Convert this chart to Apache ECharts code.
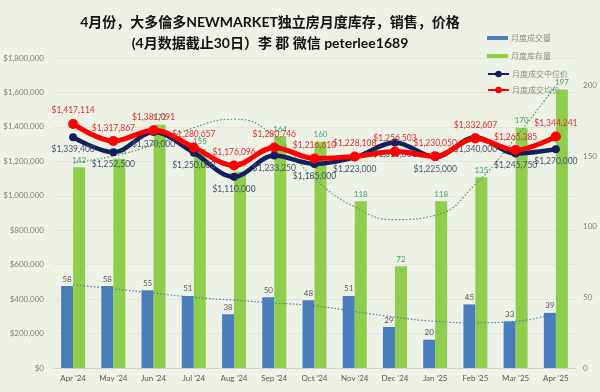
<!DOCTYPE html>
<html>
<head>
<meta charset="utf-8">
<script src="https://cdn.jsdelivr.net/npm/echarts@6/dist/echarts.min.js"></script>
<style>
html,body{margin:0;padding:0;background:#EEF1E6;}
#chart{width:600px;height:392px;}
</style>
</head>
<body>
<div id="chart"></div>
<script>
const categories = ["Apr '24","May '24","Jun '24","Jul '24","Aug '24","Sep '24","Oct '24","Nov '24","Dec '24","Jan '25","Feb '25","Mar '25","Apr '25"];
const sales = [58,58,55,51,38,50,48,51,29,20,45,33,39];
const inventory = [142,148,172,155,139,164,160,118,72,118,135,170,197];
const medianPrice = [1339400,1252500,1370000,1250000,1110000,1233250,1185000,1223000,1310000,1225000,1340000,1245750,1270000];
const avgPrice = [1417114,1317867,1381091,1280657,1176096,1280746,1216610,1228108,1256503,1230050,1332607,1265385,1344241];
const salesTrend = [59,56,53,50,48,46,44,40,36,33,32,33,39];
const inventoryTrend = [145,150,158,170,176,164,134,114,105,108,130,163,200];
const leftTicks = [0,200000,400000,600000,800000,1000000,1200000,1400000,1600000,1800000];
const rightTicks = [0,50,100,150,200];

const names = ['月度成交量','月度库存量','月度成交中位价','月度成交均价'];
const money = v => '$' + Number(v).toLocaleString('en-US');
const FONT = 'Lato, "Noto Sans CJK SC", sans-serif';

const chart = echarts.init(document.getElementById('chart'), null, {renderer:'canvas'});
chart.setOption({
  backgroundColor: '#EEF1E6',
  textStyle: {fontFamily: FONT},
  title: {
    text: '4月份，大多倫多NEWMARKET独立房月度库存，销售，价格\n(4月数据截止30日）李 郡 微信 peterlee1689',
    left: 265, top: 7, textAlign: 'center',
    textStyle: {fontFamily: FONT, fontSize: 14, fontWeight: 'bold', color: '#111', lineHeight: 21}
  },
  legend: [{
    data: [names[0], names[1]],
    orient: 'vertical', left: 482, top: 29, itemWidth: 21, itemHeight: 4, itemGap: 10,
    icon: 'rect',
    textStyle: {fontSize: 8, color: '#8C8C8C', fontFamily: '"Noto Sans CJK SC"', padding:[0,0,0,-2]}
  },{
    data: [names[2], names[3]],
    orient: 'vertical', left: 482, top: 65, itemWidth: 21, itemHeight: 8, itemGap: 8,
    textStyle: {fontSize: 8, color: '#8C8C8C', fontFamily: '"Noto Sans CJK SC"', padding:[0,0,0,-2]}
  }],
  grid: {left: 53, right: 24, top: 58, bottom: 24},
  xAxis: {
    type: 'category', data: categories,
    axisLine: {lineStyle: {color: '#D0D3C8'}},
    axisTick: {show: false},
    axisLabel: {fontSize: 8, color: '#595959', margin: 6}
  },
  yAxis: [{
    type: 'value', min: 0, max: leftTicks[leftTicks.length-1], interval: leftTicks[1]-leftTicks[0],
    axisLine: {show: false}, axisTick: {show: false},
    axisLabel: {fontSize: 8, color: '#7F7F7F', margin: 9, formatter: v => money(v)},
    splitLine: {lineStyle: {color: '#DCDFD3', width: 0.7}}
  },{
    type: 'value', min: 0, max: 219.3, interval: rightTicks[1]-rightTicks[0],
    axisLine: {show: false}, axisTick: {show: false},
    axisLabel: {fontSize: 8, color: '#7F7F7F', margin: 7, showMaxLabel: false},
    splitLine: {show: false}
  }],
  series: [{
    name: names[0], type: 'bar', yAxisIndex: 1, data: sales,
    barWidth: 12, barGap: '0%',
    itemStyle: {color: '#4A7EBB'},
    label: {show: true, position: 'top', fontSize: 8, color: '#595959', distance: 3}
  },{
    name: names[1], type: 'bar', yAxisIndex: 1, data: inventory,
    barWidth: 12, barGap: '0%',
    itemStyle: {color: '#8FCE4C'},
    label: {show: true, position: 'top', fontSize: 8, color: '#3FA36A', distance: 3}
  },{
    name: 'salesTrend', type: 'line', yAxisIndex: 1, data: salesTrend,
    smooth: true, symbol: 'none', silent: true, z: 3,
    lineStyle: {color: '#4A7EBB', width: 1.2, type: [1.5, 2]}
  },{
    name: 'inventoryTrend', type: 'line', yAxisIndex: 1, data: inventoryTrend,
    smooth: true, symbol: 'none', silent: true, z: 3,
    lineStyle: {color: '#3FA35A', width: 1.2, type: [1.5, 2]}
  },{
    name: names[2], type: 'line', yAxisIndex: 0, data: medianPrice,
    smooth: 0.35, symbol: 'circle', symbolSize: 8, z: 4,
    itemStyle: {color: '#12205E'},
    lineStyle: {color: '#12205E', width: 4.5},
    label: {show: true, position: 'bottom', fontSize: 8.5, color: '#44546A', distance: 4, formatter: p => money(p.value)}
  },{
    name: names[3], type: 'line', yAxisIndex: 0, data: avgPrice,
    smooth: 0.35, symbol: 'circle', symbolSize: 10, z: 5,
    itemStyle: {color: '#FF0000'},
    lineStyle: {color: '#FF0000', width: 5},
    label: {show: true, position: 'top', fontSize: 8.5, color: '#E0302A', distance: 4, formatter: p => money(p.value)}
  }]
});
</script>
</body>
</html>
